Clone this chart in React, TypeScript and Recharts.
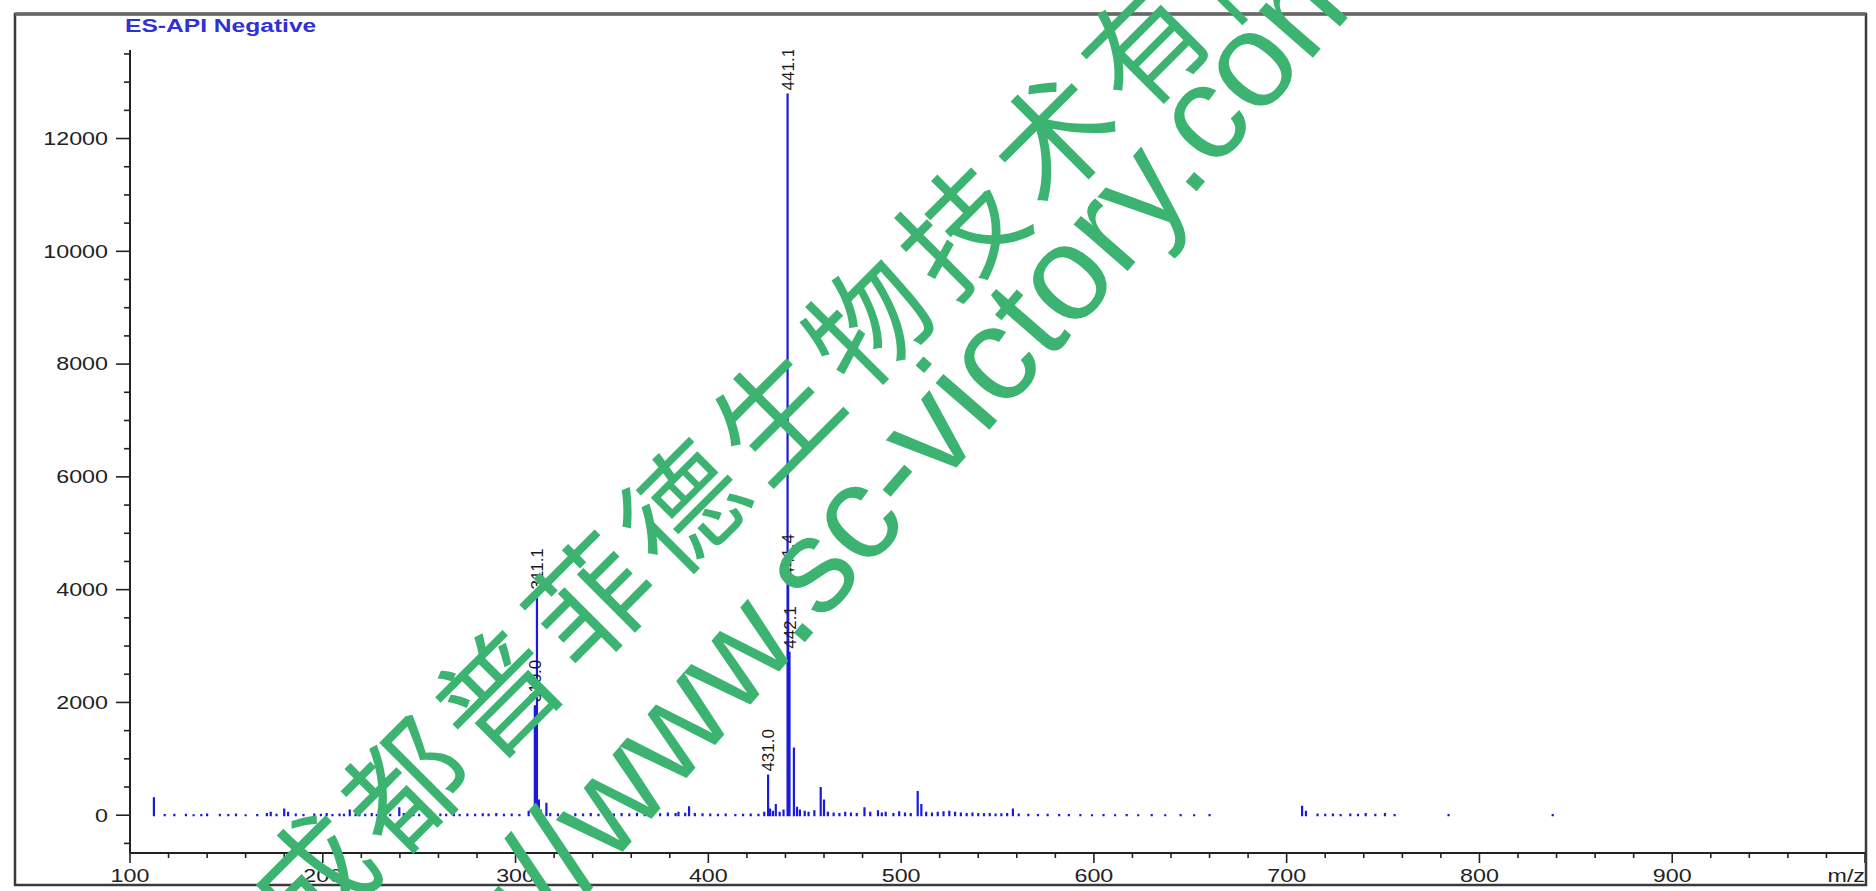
import React from "react";
import { ComposedChart, Line, Scatter, XAxis, YAxis } from "recharts";

// ---- data ----
const labeledMz = [310.0, 311.1, 431.0, 441.1, 441.4, 442.1];
const labeledIntensity = [1950, 3950, 720, 12800, 4180, 2900];
const labeledText = ["310.0", "311.1", "431.0", "441.1", "441.4", "442.1"];

const minorMz = [
  112.4, 118, 123, 129, 133, 137, 140, 146.6, 151, 155, 160, 166, 171, 173, 176, 180, 182, 186, 190, 195.6,
  199, 202, 205, 208.7, 211, 214, 217, 219, 222, 225.4, 228, 231.7, 235, 239.7, 242, 247, 250, 254, 257, 261,
  264, 268, 271, 275, 279, 283, 286, 290, 294, 298, 302, 306.8, 312.1, 313, 316, 318, 322, 326, 331, 335,
  339, 343, 347, 351, 355, 359, 363, 367, 371, 375, 379, 383, 384.5, 388, 390, 393, 397, 401, 405, 409,
  414, 418, 422, 426, 429, 432, 433.5, 435, 437, 439, 444.4, 446, 447.5, 450, 452, 455, 458.3, 460, 462, 465,
  468, 471, 474, 477, 481, 484, 488, 490, 492, 496, 499, 502, 505, 508.6, 510.5, 513, 516, 519, 522, 525,
  528, 531, 534, 537, 540, 543, 546, 549, 552, 555, 558, 561, 566, 571, 576, 582, 587, 593, 599, 605,
  611, 617, 623, 630, 637, 645, 652, 660, 708, 710, 716, 720, 724, 728, 733, 737, 741, 746, 751, 756,
  784, 838,
];
const minorIntensity = [
  320, 20, 25, 25, 15, 20, 30, 25, 20, 30, 15, 20, 40, 60, 25, 120, 60, 30, 20, 30,
  25, 40, 20, 30, 25, 100, 30, 30, 25, 40, 20, 30, 25, 140, 40, 30, 25, 35, 20, 30,
  25, 40, 20, 30, 25, 35, 30, 40, 25, 30, 20, 80, 280, 100, 220, 40, 30, 25, 35, 30,
  40, 25, 35, 30, 40, 30, 45, 30, 40, 35, 50, 40, 60, 45, 160, 40, 35, 30, 25, 30,
  20, 25, 30, 25, 60, 120, 80, 200, 60, 100, 1200, 150, 100, 80, 60, 90, 500, 280, 60, 50,
  40, 60, 50, 40, 140, 60, 90, 50, 60, 40, 70, 50, 40, 430, 200, 60, 50, 60, 70, 80,
  60, 50, 40, 50, 40, 35, 40, 30, 35, 40, 120, 30, 25, 20, 25, 20, 20, 20, 15, 20,
  15, 20, 15, 20, 15, 20, 15, 20, 170, 80, 30, 25, 30, 20, 30, 25, 40, 25, 40, 20,
  20, 20,
];

const yMajorTicks = [0, 2000, 4000, 6000, 8000, 10000, 12000];
const xMajorTicks = [100, 200, 300, 400, 500, 600, 700, 800, 900, 1000];
const xAxisUnit = "m/z";
const ionModeText = "ES-API Negative";
const watermarkCompany = "成都普菲德生物技术有限公司";
const watermarkUrl = "http://www.sc-victory.com";

// tick positions (minor ticks every 20 m/z and every 500 counts)
const xTicks: number[] = [];
for (let v = 100; v <= 1000; v += 20) xTicks.push(v);
const yTicks: number[] = [];
for (let v = -500; v <= 13500; v += 500) yTicks.push(v);

type Pt = { mz: number; v: number | null };
const stickData: Pt[] = [];
const allMz = [...labeledMz, ...minorMz];
const allInt = [...labeledIntensity, ...minorIntensity];
allMz.forEach((mz, i) => {
  stickData.push({ mz, v: 0 }, { mz, v: allInt[i] }, { mz, v: 0 }, { mz, v: null });
});
const labelData = labeledMz.map((mz, i) => ({ mz, v: labeledIntensity[i], text: labeledText[i] }));

const TXT_FONT = "'Liberation Sans', Arial, sans-serif";
const STRETCH = 1.33;

const XTick = (props: any) => {
  const { x, y, payload } = props;
  const v = payload.value;
  const major = xMajorTicks.includes(v);
  const label = v === 1000 ? xAxisUnit : String(v);
  return (
    <g>
      <line x1={x} x2={x} y1={y} y2={y + (major ? 10 : 5)} stroke="#222" strokeWidth={1.6} />
      {major && (
        <text
          transform={`translate(${x},${y + 23}) scale(${STRETCH},1)`}
          textAnchor={v === 1000 ? "end" : "middle"}
          dominantBaseline="central"
          fontFamily={TXT_FONT}
          fontSize={17.5}
          fill="#222"
        >
          {label}
        </text>
      )}
    </g>
  );
};

const YTick = (props: any) => {
  const { x, y, payload } = props;
  const v = payload.value;
  const major = yMajorTicks.includes(v);
  return (
    <g>
      <line x1={x - (major ? 14 : 6)} x2={x} y1={y} y2={y} stroke="#222" strokeWidth={1.6} />
      {major && (
        <text
          transform={`translate(${x - 22},${y}) scale(${STRETCH},1)`}
          textAnchor="end"
          dominantBaseline="central"
          fontFamily={TXT_FONT}
          fontSize={17.5}
          fill="#222"
        >
          {v}
        </text>
      )}
    </g>
  );
};

const PeakLabel = (props: any) => {
  const { cx, cy, payload } = props;
  if (cx == null || cy == null) return <g />;
  const y0 = cy - 3;
  return (
    <text
      x={cx}
      y={y0}
      dy="0.36em"
      transform={`rotate(-90 ${cx} ${y0})`}
      textAnchor="start"
      fontFamily={TXT_FONT}
      fontSize={17}
      fill="#1a1a1a"
    >
      {payload.text}
    </text>
  );
};

export default function App() {
  return (
    <div style={{ position: "absolute", left: 0, top: 0, width: 1876, height: 891, background: "#fff", overflow: "hidden" }}>
      <ComposedChart width={1876} height={891} margin={{ top: 50, right: 11, bottom: 0, left: 0 }}>
        <XAxis
          dataKey="mz"
          type="number"
          domain={[100, 1000]}
          ticks={xTicks}
          interval={0}
          tickLine={false}
          tickSize={0}
          tickMargin={0}
          tick={<XTick />}
          height={38}
          axisLine={{ stroke: "#222", strokeWidth: 2 }}
          allowDataOverflow
        />
        <YAxis
          dataKey="v"
          type="number"
          domain={[-670, 13570]}
          ticks={yTicks}
          interval={0}
          tickLine={false}
          tickSize={0}
          tickMargin={0}
          tick={<YTick />}
          width={130}
          axisLine={{ stroke: "#222", strokeWidth: 2 }}
          allowDataOverflow
        />
        <Line
          data={stickData}
          dataKey="v"
          type="linear"
          stroke="#1a1ad8"
          strokeWidth={2.2}
          strokeLinecap="square"
          dot={false}
          activeDot={false}
          connectNulls={false}
          isAnimationActive={false}
        />
        <Scatter data={labelData} dataKey="v" shape={<PeakLabel />} isAnimationActive={false} />
      </ComposedChart>
      <svg width={1876} height={891} style={{ position: "absolute", left: 0, top: 0, pointerEvents: "none" }}>
        <rect x={15} y={14} width={1851} height={871} fill="none" stroke="#3a3a3a" strokeWidth={2.5} />
        <line x1={15} x2={1866} y1={14} y2={14} stroke="#666" strokeWidth={3.5} />
        <text
          transform={`translate(125,26) scale(${STRETCH},1)`}
          dominantBaseline="central"
          fontFamily={TXT_FONT}
          fontSize={18.5}
          fontWeight="bold"
          fill="#3030d8"
        >
          {ionModeText}
        </text>
        <text
          transform="translate(265,916) rotate(-45)"
          dominantBaseline="central"
          fontFamily="'Noto Sans CJK SC', sans-serif"
          fontSize={120}
          letterSpacing={11}
          fill="#3cb371"
        >
          {watermarkCompany}
        </text>
        <text
          transform="translate(353,1091) rotate(-49)"
          dominantBaseline="central"
          fontFamily="'Liberation Sans', Arial, sans-serif"
          fontSize={135}
          fill="#3cb371"
        >
          {watermarkUrl}
        </text>
      </svg>
    </div>
  );
}
